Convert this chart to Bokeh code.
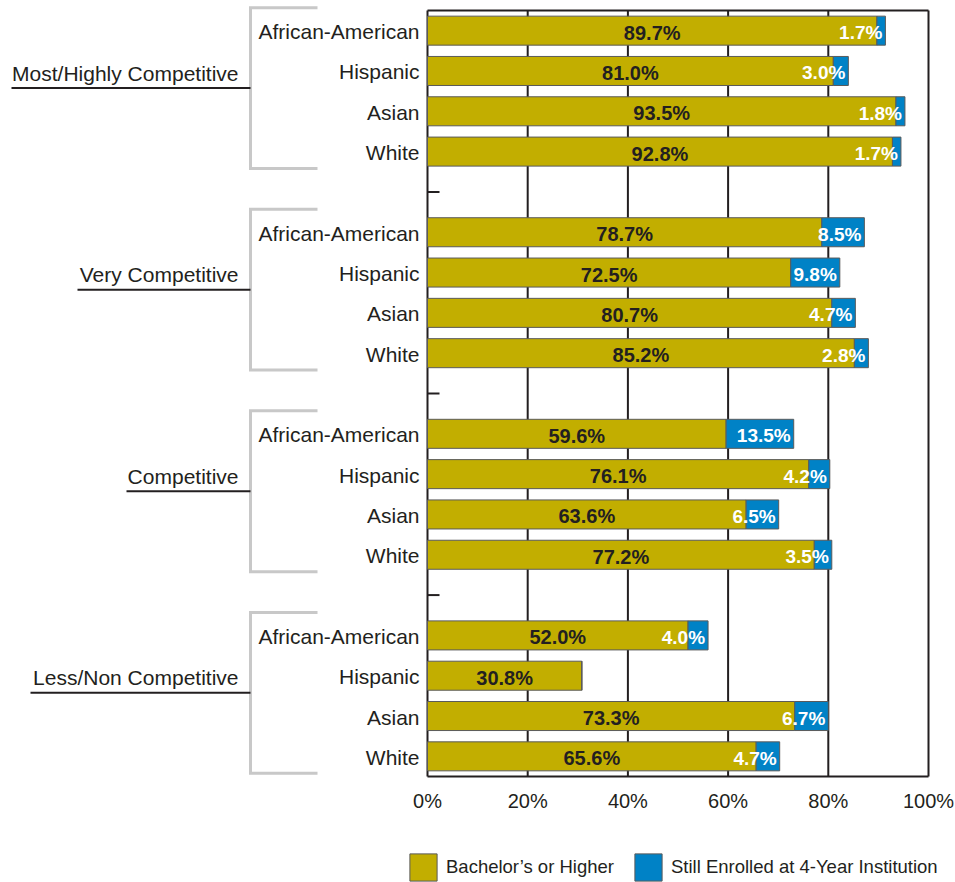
from bokeh.plotting import figure
from bokeh.models import ColumnDataSource, Range1d, Legend, LegendItem
from bokeh.core.properties import value
from bokeh.embed import file_html
from bokeh.resources import INLINE

# ---- data -------------------------------------------------------------
groups = ["Most/Highly Competitive", "Very Competitive",
          "Competitive", "Less/Non Competitive"]
races = ["African-American", "Hispanic", "Asian", "White"]

# share of students (%) per group x race, in row order
bachelor = [89.7, 81.0, 93.5, 92.8,
            78.7, 72.5, 80.7, 85.2,
            59.6, 76.1, 63.6, 77.2,
            52.0, 30.8, 73.3, 65.6]
enrolled = [1.7, 3.0, 1.8, 1.7,
            8.5, 9.8, 4.7, 2.8,
            13.5, 4.2, 6.5, 3.5,
            4.0, 0.0, 6.7, 4.7]

series_names = ["Bachelor’s or Higher", "Still Enrolled at 4-Year Institution"]
x_ticks = [0, 20, 40, 60, 80, 100]
x_tick_labels = ["0%", "20%", "40%", "60%", "80%", "100%"]

# ---- styling ----------------------------------------------------------
GOLD = "#C2AE00"
BLUE = "#0082C6"
INK = "#231F20"
BRACKET = "#C8C8C8"
FONT = "Liberation Sans"

W, H = 955, 882
PX_LEFT, PX_RIGHT = 427, 928      # screen columns of 0 % and 100 %
PX_TOP, PX_BOTTOM = 10, 776       # screen rows of the plot box
n_per_group = len(races)
n_slots = len(groups) * (n_per_group + 1) - 1
xs = (PX_RIGHT - PX_LEFT) / 100.0
ys = (PX_BOTTOM - PX_TOP) / n_slots

x_range = Range1d(-PX_LEFT / xs, (W - PX_LEFT) / xs)
y_range = Range1d(n_slots + (H - PX_BOTTOM) / ys, -PX_TOP / ys)

# ---- layout of rows ---------------------------------------------------
row_y, row_race = [], []
for g in range(len(groups)):
    for r, race in enumerate(races):
        row_y.append(g * (n_per_group + 1) + r + 0.5)
        row_race.append(race)
gap_y = [g * (n_per_group + 1) + n_per_group + 0.5 for g in range(len(groups) - 1)]

totals = [b + e for b, e in zip(bachelor, enrolled)]
src = ColumnDataSource(dict(
    y=row_y, race=row_race, bachelor=bachelor, enrolled=enrolled,
    bmid=[b / 2 for b in bachelor],
    blabel=[f"{b:.1f}%" for b in bachelor],
))
en_idx = [i for i, e in enumerate(enrolled) if e > 0]
en_src = ColumnDataSource(dict(
    y=[row_y[i] for i in en_idx],
    total=[totals[i] for i in en_idx],
    elabel=[f"{enrolled[i]:.1f}%" for i in en_idx],
))

p = figure(width=W, height=H, x_range=x_range, y_range=y_range,
           output_backend="svg", toolbar_location=None, min_border=0,
           y_axis_location=None, x_axis_location="below",
           outline_line_color=None, background_fill_color="white",
           border_fill_color="white")
p.xgrid.visible = False
p.ygrid.visible = False

# x axis sits on the bottom edge of the plot box
ax = p.xaxis[0]
ax.fixed_location = n_slots
ax.ticker = x_ticks
ax.major_label_overrides = {t: lab for t, lab in zip(x_ticks, x_tick_labels)}
ax.axis_line_color = None
ax.major_tick_line_color = None
ax.minor_tick_line_color = None
ax.major_label_standoff = 7
ax.major_label_text_font = FONT
ax.major_label_text_font_size = "20px"
ax.major_label_text_color = INK

# plot box, grid lines and group-separator ticks
p.segment(x0=x_ticks, y0=[0] * len(x_ticks), x1=x_ticks, y1=[n_slots] * len(x_ticks),
          line_color=INK, line_width=2)
p.segment(x0=[0, 0], y0=[0, n_slots], x1=[100, 100], y1=[0, n_slots],
          line_color=INK, line_width=2)
p.segment(x0=[0] * len(gap_y), y0=gap_y, x1=[12 / xs] * len(gap_y), y1=gap_y,
          line_color=INK, line_width=2)

# stacked bars
bars = p.hbar_stack(["bachelor", "enrolled"], y="y", height=0.72, source=src,
                    fill_color=[GOLD, BLUE], line_color="#5a5a5a", line_width=1)

# value labels
p.text(x="bmid", y="y", text="blabel", source=src, text_align="center",
       text_baseline="middle", y_offset=2, text_font=value(FONT),
       text_font_size="20px", text_font_style="bold", text_color=INK)
p.text(x="total", y="y", text="elabel", source=en_src, text_align="right",
       text_baseline="middle", x_offset=-3, y_offset=2, text_font=value(FONT),
       text_font_size="19px", text_font_style="bold", text_color="white")

# race labels left of the axis
p.text(x=0, y="y", text="race", source=src, text_align="right",
       text_baseline="middle", x_offset=-8, y_offset=1, text_font=value(FONT),
       text_font_size="21px", text_color=INK)

# group brackets with underlined group names
xv = (250 - PX_LEFT) / xs
xarm = (317 - PX_LEFT) / xs
underline_start_px = [11, 77, 126, 30]
bx, by, mids, ux0 = [], [], [], []
for g in range(len(groups)):
    first = g * (n_per_group + 1) + 0.5
    last = first + n_per_group - 1
    top, bot = first - 0.57, last + 0.42
    bx.append([xarm, xv, xv, xarm])
    by.append([top, top, bot, bot])
    mids.append((top + bot) / 2)
    ux0.append((underline_start_px[g] - PX_LEFT) / xs)
p.multi_line(xs=bx, ys=by, line_color=BRACKET, line_width=3, line_join="miter")
p.segment(x0=ux0, y0=mids, x1=[xv] * len(groups), y1=mids,
          line_color=INK, line_width=2)
p.text(x=[xv] * len(groups), y=mids, text=groups, text_align="right",
       text_baseline="alphabetic", x_offset=-12, y_offset=-15,
       text_font=value(FONT), text_font_size="21px", text_color=INK)

legend = Legend(items=[LegendItem(label=series_names[0], renderers=[bars[0]]),
                       LegendItem(label=series_names[1], renderers=[bars[1]])],
                location=(406, -2), orientation="horizontal",
                glyph_width=34, glyph_height=34, label_standoff=6, spacing=17,
                padding=0, margin=0, border_line_color=None,
                background_fill_alpha=0, label_text_font=FONT,
                label_text_font_size="18.5px", label_text_color=INK)
p.add_layout(legend)

open("out.html", "w").write(file_html(p, INLINE))
